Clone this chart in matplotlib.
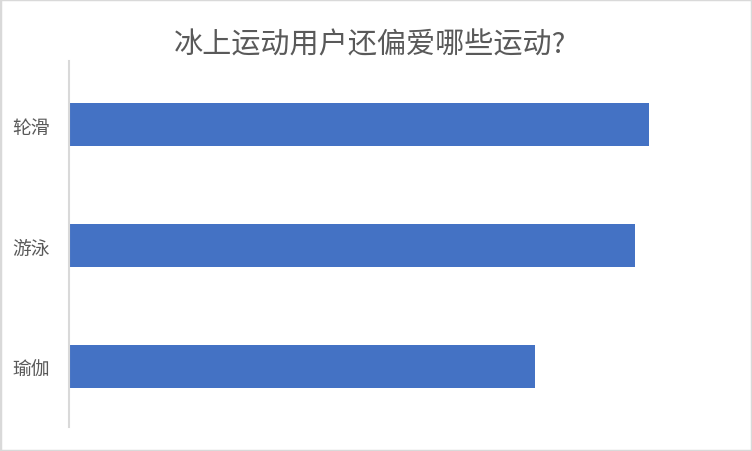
import matplotlib
matplotlib.use("Agg")
import matplotlib.pyplot as plt
from matplotlib.patches import Rectangle

plt.rcParams["font.family"] = ["Noto Sans CJK SC", "DejaVu Sans"]

title = "冰上运动用户还偏爱哪些运动?"
sports = ["瑜伽", "游泳", "轮滑"]
shares = [46.6, 56.6, 58.0]

fig = plt.figure(figsize=(7.52, 4.52), dpi=100)
ax = fig.add_axes([69 / 752, 1 - 428 / 452, 660 / 752, 366 / 452])

ax.barh(sports, shares, height=0.355, color="#4472C4")
ax.set_xlim(0, 66)
ax.set_ylim(-0.5, 2.525)

for side in ["top", "right", "bottom"]:
    ax.spines[side].set_visible(False)
ax.spines["left"].set_color("#d9d9d9")
ax.spines["left"].set_linewidth(1.5)
ax.set_xticks([])
ax.tick_params(axis="y", length=0, pad=14, labelsize=13.5, labelcolor="#595959")

fig.text(370 / 752, 1 - 45 / 452, title, ha="center", va="center",
         fontsize=21, color="#595959")

fig.patches.append(Rectangle((0, 0), 1, 1, transform=fig.transFigure,
                             fill=False, edgecolor="#d9d9d9", linewidth=2.5))

fig.savefig("out.png", dpi=100)
